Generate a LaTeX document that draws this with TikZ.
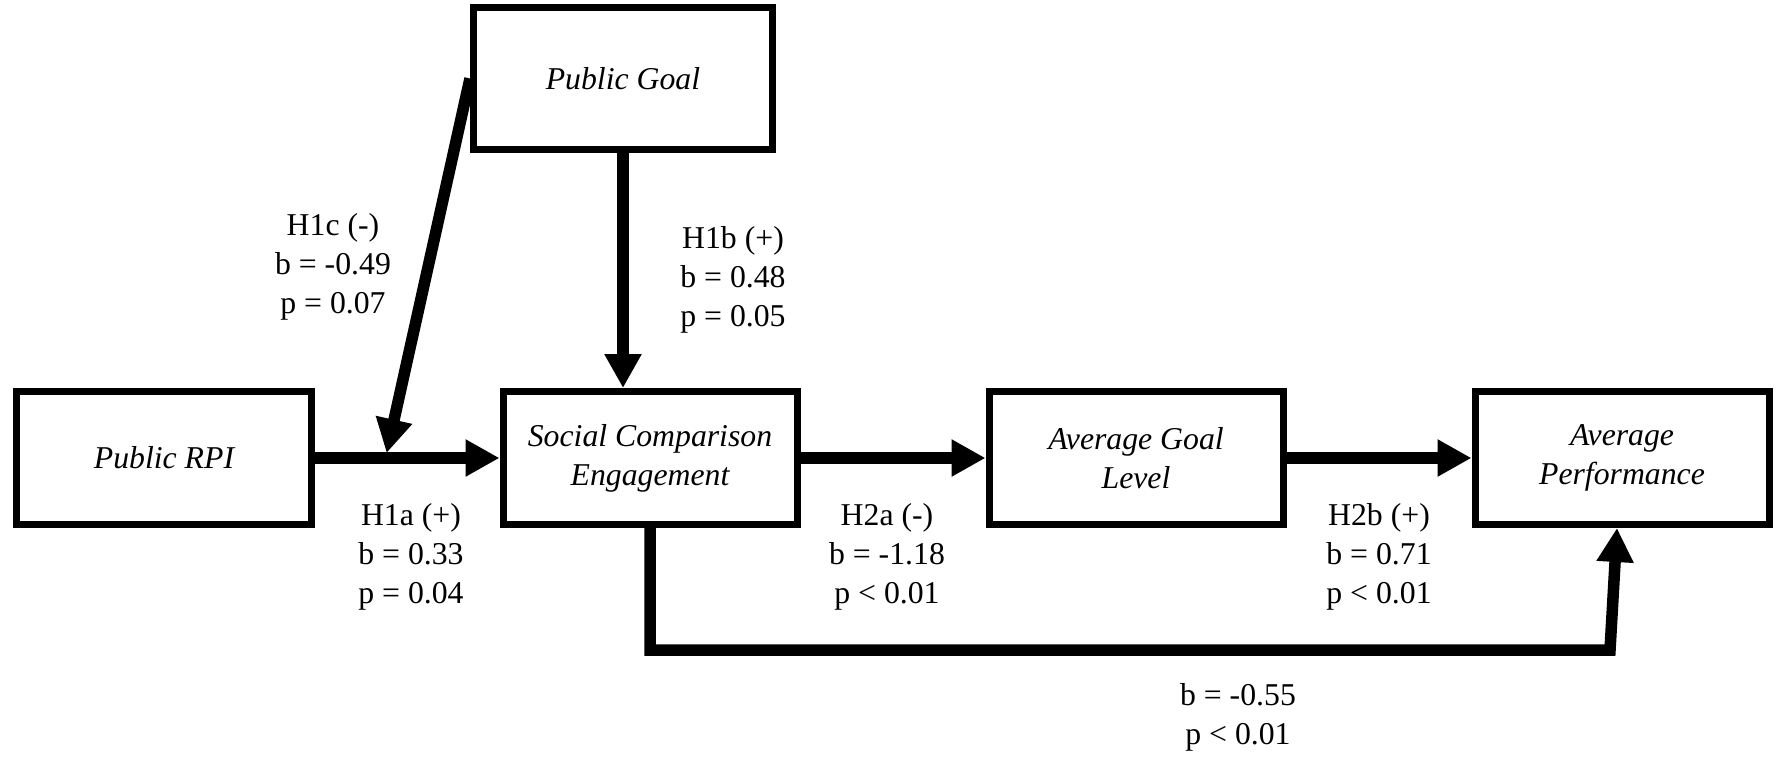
\documentclass[tikz,border=0pt]{standalone}
\usepackage{fontspec}
\setmainfont{Liberation Serif}[Ligatures=TeX]
\usetikzlibrary{calc,chains,positioning,arrows.meta}

\begin{document}
\fontsize{12.7}{15.6}\selectfont
\begin{tikzpicture}[box/.style={draw, line width=2.8pt, minimum width=117.6pt,
    minimum height=53.2pt, align=center, font=\itshape},
    conn/.style={-{Triangle[length=13.6pt,width=14pt]}, line width=4.6pt},
    est/.style={align=center}, node distance=74pt, start chain]
  \useasboundingbox (-65.6pt,-119.6pt) rectangle (648.4pt,183.2pt);
  \node[box,on chain] (RPI) {Public RPI};
  \node[box,on chain] (SCE) {Social Comparison\\Engagement};
  \node[box,on chain] (AGL) {Average Goal\\Level};
  \node[box,on chain] (AP) {Average\\Performance};
  \node[box,minimum width=119.6pt,minimum height=56.4pt,above=94.2pt of SCE,
    xshift=-10.8pt] (PG) {Public Goal};
  \coordinate (mod) at ($(RPI.east)!0.39!(SCE.west)$);
  \coordinate (low) at ($(SCE.south)+(0,-48.8pt)$);
  \draw[conn] (RPI) -- (SCE);
  \draw[conn] (PG.west) -- ([yshift=2pt]mod);
  \draw[conn] (PG.south) -- (PG.south |- SCE.north);
  \draw[conn] (SCE) -- (AGL);
  \draw[conn] (AGL) -- (AP);
  \draw[conn] (SCE.south) -- (low) -- ([xshift=-4.8pt]AP.south |- low)
    -- ([xshift=-2pt]AP.south);
  \node[est] (h1c) at (67.6pt,76.4pt) {H1c (-)\\b = -0.49\\p = 0.07};
  \node[est] (h1b) at (227.6pt,71.2pt) {H1b (+)\\b = 0.48\\p = 0.05};
  \node[est] (h1a) at (98.8pt,-39.6pt) {H1a (+)\\b = 0.33\\p = 0.04};
  \node[est] (h2a) at (289.2pt,-39.6pt) {H2a (-)\\b = -1.18\\p < 0.01};
  \node[est] (h2b) at (486pt,-39.6pt) {H2b (+)\\b = 0.71\\p < 0.01};
  \node[est] (dir) at (429.6pt,-103.6pt) {b = -0.55\\p < 0.01};
\end{tikzpicture}
\end{document}
